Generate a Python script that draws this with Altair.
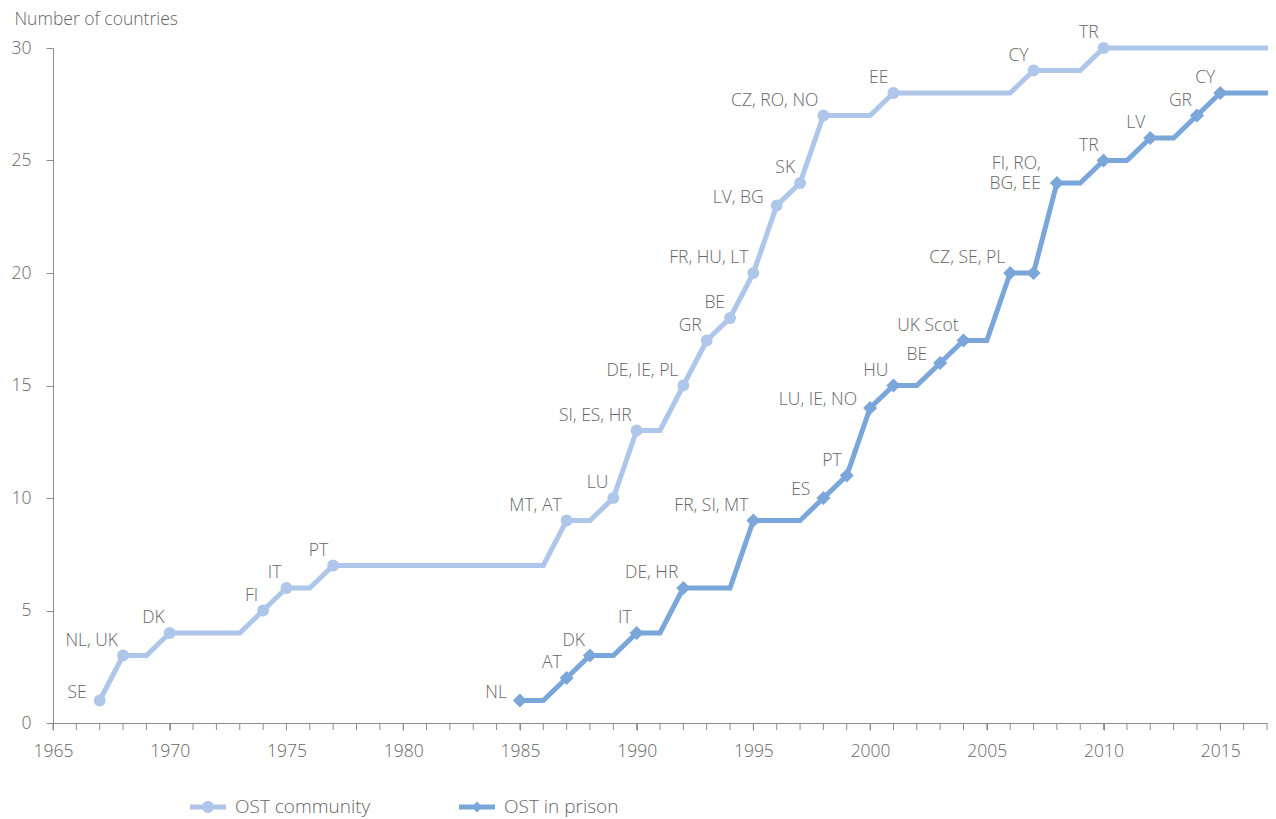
import altair as alt
import pandas as pd

# ---- data ----
comm_years = list(range(1967, 2018))
comm_values = [1, 3, 3, 4, 4, 4, 4, 5, 6, 6, 7,
               7, 7, 7, 7, 7, 7, 7, 7, 7,
               9, 9, 10, 13, 13, 15, 17, 18, 20, 23, 24, 27, 27, 27, 28,
               28, 28, 28, 28, 28,
               29, 29, 29, 30,
               30, 30, 30, 30, 30, 30, 30]
comm_label_years = [1967, 1968, 1970, 1974, 1975, 1977, 1987, 1989, 1990, 1992,
                    1993, 1994, 1995, 1996, 1997, 1998, 2001, 2007, 2010]
comm_labels = ["SE", "NL, UK", "DK", "FI", "IT", "PT", "MT, AT", "LU", "SI, ES, HR",
               "DE, IE, PL", "GR", "BE", "FR, HU, LT", "LV, BG", "SK", "CZ, RO, NO",
               "EE", "CY", "TR"]

prison_years = list(range(1985, 2018))
prison_values = [1, 1, 2, 3, 3, 4, 4, 6, 6, 6, 9, 9, 9, 10, 11, 14, 15, 15, 16, 17,
                 17, 20, 20, 24, 24, 25, 25, 26, 26, 27, 28, 28, 28]
prison_label_years = [1985, 1987, 1988, 1990, 1992, 1995, 1998, 1999, 2000, 2001,
                      2003, 2004, 2006, 2007, 2008, 2010, 2012, 2014, 2015]
prison_labels = ["NL", "AT", "DK", "IT", "DE, HR", "FR, SI, MT", "ES", "PT",
                 "LU, IE, NO", "HU", "BE", "UK Scot", "CZ, SE, PL", "",
                 "FI, RO,\nBG, EE", "TR", "LV", "GR", "CY"]

x_ticks = list(range(1965, 2018))
x_label_values = [1965, 1970, 1975, 1980, 1985, 1990, 1995, 2000, 2005, 2010, 2015]
y_label_values = [0, 5, 10, 15, 20, 25, 30]

series_names = ["OST community", "OST in prison"]
series_colors = ["#aec6e9", "#7aa6da"]

# label placement styles (which labels sit beside rather than above their marker)
side_placed = {(series_names[0], "SE"), (series_names[0], "LV, BG"),
               (series_names[1], "NL"), (series_names[1], "ES"),
               (series_names[1], "LU, IE, NO"), (series_names[1], "BE")}

# ---- tables ----
lines_df = pd.concat([
    pd.DataFrame({"year": comm_years, "value": comm_values, "series": series_names[0]}),
    pd.DataFrame({"year": prison_years, "value": prison_values, "series": series_names[1]}),
])
comm_lookup = dict(zip(comm_years, comm_values))
prison_lookup = dict(zip(prison_years, prison_values))
points_df = pd.concat([
    pd.DataFrame({"year": comm_label_years,
                  "value": [comm_lookup[y] for y in comm_label_years],
                  "label": comm_labels, "series": series_names[0]}),
    pd.DataFrame({"year": prison_label_years,
                  "value": [prison_lookup[y] for y in prison_label_years],
                  "label": prison_labels, "series": series_names[1]}),
])
points_df["place"] = [
    "multi" if "\n" in l else ("side" if (s, l) in side_placed else "above")
    for s, l in zip(points_df["series"], points_df["label"])
]
ticks_df = pd.DataFrame({"year": x_ticks})

FONT = "Open Sans"
WEIGHT = 300
FS = 17.5
GREY = "#666666"
AXIS_GREY = "#8c8c8c"

color_scale = alt.Scale(domain=series_names, range=series_colors)
x_scale = alt.Scale(domain=[1965, 2017], nice=False, zero=False)

x_enc = alt.X("year:Q", scale=x_scale,
              axis=alt.Axis(values=x_label_values, format="d",
                            title=None, grid=False, tickSize=7, labelPadding=12,
                            domainColor=AXIS_GREY, tickColor=AXIS_GREY,
                            labelFontSize=FS, labelFont=FONT, labelFontWeight=WEIGHT,
                            labelColor=GREY, labelFlush=False, labelOverlap=False))
y_enc = alt.Y("value:Q",
              scale=alt.Scale(domain=[0, 30], nice=False),
              axis=alt.Axis(values=y_label_values, title="Number of countries",
                            titleAngle=0, titleAlign="left", titleBaseline="top",
                            titleX=-39, titleY=-38, titleFont=FONT, titleFontSize=FS,
                            titleFontWeight=WEIGHT, titleColor=GREY,
                            grid=False, tickSize=7, labelPadding=15,
                            domainColor=AXIS_GREY, tickColor=AXIS_GREY,
                            labelFontSize=FS, labelFont=FONT, labelFontWeight=WEIGHT,
                            labelColor=GREY))

minor_ticks = alt.Chart(ticks_df).mark_rule(color=AXIS_GREY, strokeWidth=1).encode(
    x=alt.X("year:Q", scale=x_scale),
    y=alt.value(675), y2=alt.value(682),
)

lines = alt.Chart(lines_df).mark_line(strokeWidth=5, strokeCap="round").encode(
    x=x_enc, y=y_enc,
    color=alt.Color("series:N", scale=color_scale, legend=None),
)

circles = alt.Chart(points_df).transform_filter(
    alt.datum.series == series_names[0]
).mark_point(shape="circle", filled=True, size=140, opacity=1).encode(
    x="year:Q", y="value:Q",
    color=alt.Color("series:N", scale=color_scale, legend=None),
)

diamonds = alt.Chart(points_df).transform_filter(
    alt.datum.series == series_names[1]
).mark_point(shape="diamond", filled=True, size=200, opacity=1).encode(
    x="year:Q", y="value:Q",
    color=alt.Color("series:N", scale=color_scale, legend=None),
)

text_style = dict(align="right", baseline="middle", fontSize=FS, font=FONT,
                  fontWeight=WEIGHT, color=GREY, lineBreak="\n", lineHeight=20)
labels_above = alt.Chart(points_df).transform_filter("datum.place === 'above'").mark_text(
    dx=-5, dy=-15, **text_style
).encode(x="year:Q", y="value:Q", text="label:N")
labels_side = alt.Chart(points_df).transform_filter("datum.place === 'side'").mark_text(
    dx=-13, dy=-8, **text_style
).encode(x="year:Q", y="value:Q", text="label:N")
labels_multi = alt.Chart(points_df).transform_filter("datum.place === 'multi'").mark_text(
    dx=-16, dy=-19, **text_style
).encode(x="year:Q", y="value:Q", text="label:N")

circle_path = ("M-1,-0.14L1,-0.14L1,0.14L-1,0.14Z"
               "M-0.33,0A0.33,0.33 0 1,1 0.33,0A0.33,0.33 0 1,1 -0.33,0Z")
diamond_path = ("M-1,-0.14L1,-0.14L1,0.14L-1,0.14Z"
                "M0,-0.3L0.3,0L0,0.3L-0.3,0Z")

legend_layer = alt.Chart(lines_df).transform_filter("false").mark_point(
    filled=True, opacity=1
).encode(
    color=alt.Color("series:N", scale=alt.Scale(domain=series_names, range=series_colors),
                    legend=alt.Legend(orient="none", legendX=137, legendY=741,
                                      direction="horizontal", title=None,
                                      symbolSize=1296, symbolStrokeWidth=0,
                                      symbolOpacity=1,
                                      labelFontSize=19, labelFont=FONT,
                                      labelFontWeight=WEIGHT, labelColor=GREY,
                                      labelOffset=9, columnPadding=88)),
    shape=alt.Shape("series:N", scale=alt.Scale(domain=series_names,
                                                range=[circle_path, diamond_path])),
)

chart = alt.layer(
    minor_ticks, lines, circles, diamonds, labels_above, labels_side, labels_multi,
    legend_layer
).resolve_scale(color="independent", shape="independent").properties(
    width=1214, height=675,
    autosize=alt.AutoSizeParams(type="none"),
    padding={"left": 45, "top": 40, "right": 1, "bottom": 96},
).configure_view(stroke=None)

chart.save("out.html", embed_options={"renderer": "svg", "actions": False})
